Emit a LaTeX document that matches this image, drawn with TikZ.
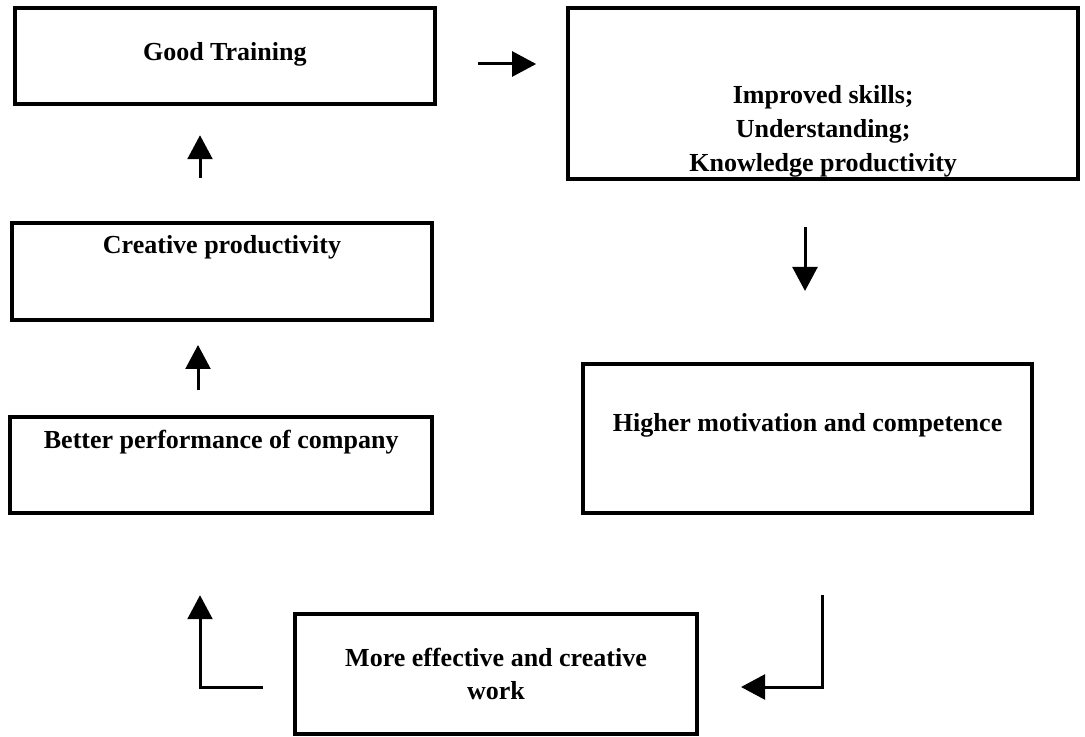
\documentclass[tikz,border=0pt]{standalone}
\usepackage{fontspec}
\setmainfont{Liberation Serif}
\usepackage{tikz}
\usetikzlibrary{arrows.meta}

\begin{document}
\begin{tikzpicture}[
	stage/.style={draw,line width=0.1cm,rectangle,inner sep=0pt,align=center,font=\bfseries\fontsize{18.5}{24}\selectfont},
	flow/.style={-{Triangle[length=0.6cm,width=0.62cm]},line width=0.075cm}]
	\useasboundingbox (0,0) rectangle (27.125,-18.425);
	% left column
	\node[stage,minimum width=10.5cm,minimum height=2.38cm,text height=0.5cm,text depth=0.28cm] (train) at (5.62,-1.4) {Good Training};
	\node[stage,minimum width=10.5cm,minimum height=2.43cm,text height=0.5cm,text depth=1.4cm] (creative) at (5.55,-6.79) {Creative productivity};
	\node[stage,minimum width=10.55cm,minimum height=2.4cm,text height=0.5cm,text depth=1.34cm] (better) at (5.53,-11.63) {Better performance of company};
	% right column
	\node[stage,minimum width=12.75cm,minimum height=4.28cm,text height=3.88cm,text depth=0cm] (skills) at (20.58,-2.34) {Improved skills;\\Understanding;\\Knowledge productivity};
	\node[stage,minimum width=11.23cm,minimum height=3.73cm,text height=0.5cm,text depth=0.86cm] (motiv) at (20.19,-10.96) {Higher motivation and competence};
	% bottom
	\node[stage,minimum width=10.05cm,minimum height=3.0cm] (work) at (12.4,-16.85) {More effective and creative\\work};
	% arrows
	\draw[flow,shorten <=1.03cm,shorten >=0.75cm] ([yshift=-0.2cm]train.east) -- ([yshift=-0.2cm]train.east -| skills.west);
	\draw[flow,shorten <=1.08cm,shorten >=0.74cm] ([xshift=-0.55cm]creative.north) -- ([xshift=-0.55cm]creative.north |- train.south);
	\draw[flow,shorten <=0.63cm,shorten >=0.57cm] ([xshift=-0.58cm]better.north) -- ([xshift=-0.58cm]better.north |- creative.south);
	\draw[flow,shorten <=1.15cm,shorten >=1.77cm] ([xshift=-0.455cm]skills.south) -- ([xshift=-0.455cm]skills.south |- motiv.north);
	\draw[flow,shorten <=2cm,shorten >=1.05cm] ([xshift=0.36cm]motiv.south) |- ([yshift=-0.325cm]work.east);
	\draw[flow,shorten <=0.75cm,shorten >=2cm] ([yshift=-0.325cm]work.west) -| ([xshift=-0.53cm]better.south);
\end{tikzpicture}
\end{document}
